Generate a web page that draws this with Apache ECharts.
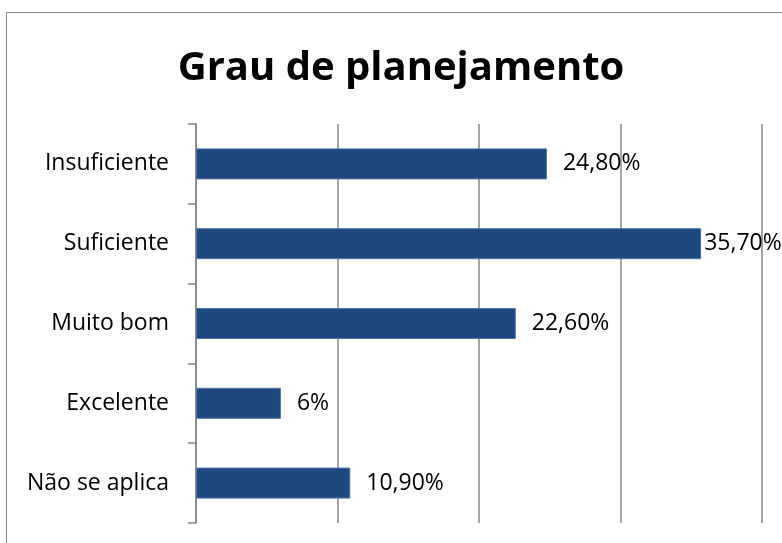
<!DOCTYPE html>
<html>
<head>
<meta charset="utf-8">
<script src="https://cdn.jsdelivr.net/npm/echarts@6/dist/echarts.min.js"></script>
<style>
  html, body { margin: 0; padding: 0; background: #fff; }
  #main { width: 782px; height: 543px; }
</style>
</head>
<body>
<div id="main"></div>
<script>
// dados do gráfico (de baixo para cima no eixo)
var categorias = ['Não se aplica', 'Excelente', 'Muito bom', 'Suficiente', 'Insuficiente'];
var valores    = [10.9, 6, 22.6, 35.7, 24.8];
var rotulos    = ['10,90%', '6%', '22,60%', '35,70%', '24,80%'];

var myChart = echarts.init(document.getElementById('main'));

// o rótulo da barra maior fica colado na barra (como no original)
var dados = valores.map(function (v) {
    var item = { value: v };
    if (v === Math.max.apply(null, valores)) {
        item.label = { distance: 3 };
    }
    return item;
});

var option = {
    backgroundColor: '#fff',
    animation: false,
    title: {
        text: 'Grau de planejamento',
        left: 396,
        textAlign: 'center',
        top: 44,
        textStyle: {
            color: '#000',
            fontFamily: 'Open Sans',
            fontWeight: 'bold',
            fontSize: 40
        }
    },
    graphic: [{
        type: 'rect',
        shape: { x: 6.5, y: 12.5, width: 800, height: 600 },
        style: { fill: 'none', stroke: '#878787', lineWidth: 1 },
        silent: true
    }],
    grid: {
        left: 196,
        right: 20,
        top: 124,
        bottom: 20
    },
    xAxis: {
        type: 'value',
        min: 0,
        max: 40,
        interval: 10,
        axisLabel: { show: false },
        axisLine: { show: false },
        axisTick: { show: false },
        splitLine: { show: true, lineStyle: { color: '#878787', width: 1.5 } }
    },
    yAxis: {
        type: 'category',
        data: categorias,
        axisLine: { show: true, lineStyle: { color: '#878787', width: 1.5 } },
        axisTick: { show: true, length: 8, lineStyle: { color: '#878787', width: 1.5 } },
        axisLabel: {
            color: '#000',
            fontFamily: 'Open Sans',
            fontSize: 23,
            margin: 27
        }
    },
    series: [{
        type: 'bar',
        data: dados,
        barWidth: 31,
        itemStyle: {
            color: '#1F497D',
            borderColor: '#4A74A8',
            borderWidth: 1
        },
        label: {
            show: true,
            position: 'right',
            distance: 16,
            color: '#000',
            fontFamily: 'Open Sans',
            fontSize: 23,
            formatter: function (p) { return rotulos[p.dataIndex]; }
        }
    }]
};
myChart.setOption(option);
</script>
</body>
</html>
